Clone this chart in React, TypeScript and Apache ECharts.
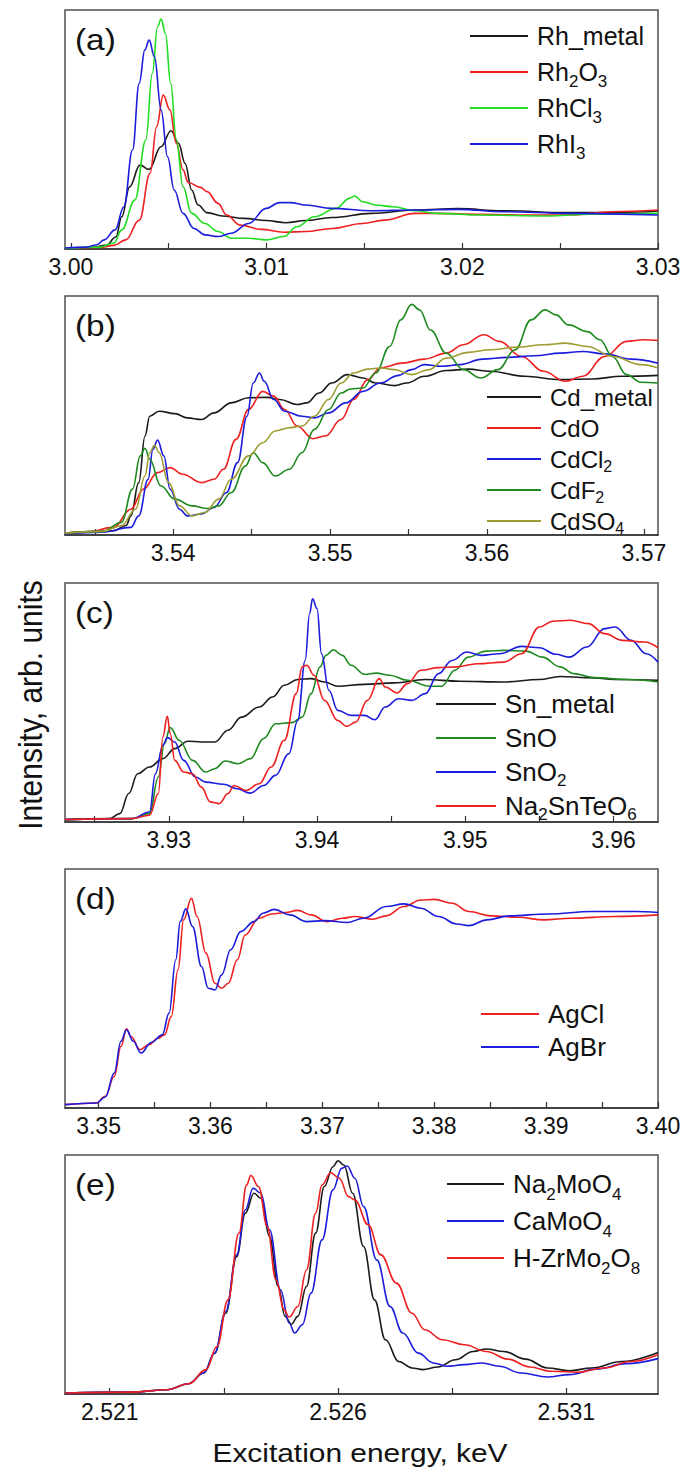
import React, { useEffect, useRef } from "react";
import * as echarts from "echarts";

const FONT = "'Liberation Sans', Arial, sans-serif";

// ---------- Panel (a) ----------
const rhMetal = [[2.9997,0.3],[3.0010,0.5],[3.0018,1.5],[3.0023,5],[3.0026,13.5],[3.0030,26],[3.00353,35.1],[3.0040,33.3],[3.0046,42.8],[3.00512,49.5],[3.0055,44.2],[3.00584,35.8],[3.00617,24.7],[3.0065,18.4],[3.00696,15.2],[3.00774,13.8],[3.00886,12.8],[3.00998,11.9],[3.01098,11.0],[3.0120,11.9],[3.01333,13.2],[3.01535,14.9],[3.01758,16.3],[3.0198,16.9],[3.02206,16.0],[3.02541,15.2],[3.0281,15.3],[3.0300,15.9]];
const rh2O3 = [[2.9997,0.2],[3.0015,0.6],[3.0022,1.5],[3.0028,3.8],[3.0035,12.1],[3.00405,31.7],[3.00438,51.2],[3.00472,64.4],[3.00506,58.2],[3.00539,44.2],[3.00573,33.1],[3.0060,27.8],[3.00662,25.8],[3.00696,24.0],[3.00752,19.1],[3.00796,14.2],[3.00864,10.0],[3.00975,8.2],[3.01087,7.0],[3.0120,7.3],[3.01333,8.6],[3.0149,10.7],[3.01602,12.1],[3.01758,14.9],[3.0187,14.9],[3.02094,14.5],[3.02318,14.2],[3.02541,14.2],[3.02765,15.6],[3.0300,16.3]];
const rhCl3 = [[2.9997,0.2],[3.0015,0.8],[3.0022,2.5],[3.0026,8],[3.00327,20.5],[3.00383,45.6],[3.00416,73.5],[3.00443,93],[3.00461,96.2],[3.00483,90.2],[3.0051,69.3],[3.00539,45.6],[3.00573,26.1],[3.00617,14.9],[3.00685,10.7],[3.00752,7.3],[3.00819,4.5],[3.00908,4.5],[3.00998,3.8],[3.01087,5.2],[3.01154,9.3],[3.01244,13.5],[3.01356,17],[3.01423,21.2],[3.0145,22.2],[3.0149,19.8],[3.01557,18.4],[3.01647,17.7],[3.01758,16],[3.0187,14.9],[3.02094,14.2],[3.0243,13.8],[3.02653,14.6],[3.0300,14.9]];
const rhI3 = [[2.9997,0.4],[3.0008,0.8],[3.0013,1.7],[3.0017,3.8],[3.00226,8],[3.00271,17.7],[3.00315,41.4],[3.00349,69.3],[3.00378,83.3],[3.0040,87.4],[3.00427,80.5],[3.00461,58.2],[3.00494,38.6],[3.00528,24.7],[3.00573,14.9],[3.00629,8.6],[3.00685,5.9],[3.00752,5.2],[3.00819,6.6],[3.00908,10.7],[3.00998,17],[3.01065,19.4],[3.01121,19.4],[3.0120,18.4],[3.01333,17],[3.01535,16],[3.01758,16.3],[3.0198,16.6],[3.02206,15.6],[3.02541,14.9],[3.0300,14.2]];
const ticksA = [3.0, 3.005, 3.01, 3.015, 3.02, 3.025, 3.03];
const labelsA = [3.0, 3.01, 3.02, 3.03];

// ---------- Panel (b) ----------
const cdMetal = [[3.5331,0.8],[3.5362,1.8],[3.5370,4],[3.5373,8],[3.5378,21.9],[3.5382,41.4],[3.5385,49.7],[3.5391,51.8],[3.5401,50.8],[3.5409,49],[3.5418,48.3],[3.5426,51.1],[3.5437,55.3],[3.5448,57.4],[3.5460,57.6],[3.5468,56.7],[3.5479,54.6],[3.5485,55.3],[3.5493,59.4],[3.5501,63.6],[3.5511,67.1],[3.5521,65.7],[3.5529,63.6],[3.5541,62.5],[3.5549,63.6],[3.5560,66.4],[3.5574,68.8],[3.5588,69.4],[3.5602,68.5],[3.5624,66.4],[3.5647,65],[3.5667,65.3],[3.5686,66.4],[3.5709,66.8]];
const cdO = [[3.5331,0.8],[3.5345,1.2],[3.5362,3.2],[3.5373,10.8],[3.5381,19.2],[3.5390,26.1],[3.5398,28.2],[3.5406,25.4],[3.5418,21.9],[3.5426,23.3],[3.5432,27.5],[3.5440,40],[3.5448,52.5],[3.5457,60.1],[3.5464,58.1],[3.5471,52.5],[3.5479,45.6],[3.5489,40.3],[3.5497,41.4],[3.5507,48.3],[3.5515,56.7],[3.5524,65],[3.5532,69.9],[3.5546,71.9],[3.5560,73.6],[3.5574,76.1],[3.5585,79.6],[3.5598,83.8],[3.5608,81],[3.5622,74.7],[3.5636,68.5],[3.5650,64.3],[3.5661,66.4],[3.5675,74.7],[3.5689,81],[3.5700,81.7],[3.5709,81.4]];
const cdCl2 = [[3.5331,0.5],[3.5355,1.2],[3.5373,3.2],[3.5378,8],[3.5384,23.3],[3.5387,35.8],[3.5390,39.7],[3.5394,33.1],[3.5398,19.2],[3.5404,10.8],[3.5409,8],[3.5418,8.8],[3.5426,11.5],[3.5434,17.8],[3.5441,30.3],[3.5447,49.7],[3.5451,63.6],[3.5455,67.8],[3.5458,64.3],[3.5464,56.7],[3.5471,51.8],[3.5482,49.7],[3.5490,49],[3.5499,51.1],[3.5510,55.3],[3.5521,60.1],[3.5532,63.6],[3.5543,66.7],[3.5552,69.2],[3.5560,71.3],[3.5571,70.6],[3.5583,71.3],[3.5597,73.6],[3.5613,74.3],[3.5630,75],[3.5647,76.1],[3.5661,76.8],[3.5675,75.8],[3.5692,73.6],[3.5709,71.9]];
const cdF2 = [[3.5331,0.8],[3.5355,1.5],[3.5367,5.3],[3.5374,19.2],[3.5379,33.1],[3.5382,36.3],[3.5385,31.7],[3.5392,20.6],[3.5401,15],[3.5412,12.2],[3.5422,11.1],[3.5429,12.2],[3.5437,17.8],[3.5446,28.9],[3.5451,34.4],[3.5457,30.3],[3.5465,24.7],[3.5474,27.5],[3.5482,34.4],[3.5490,44.2],[3.5499,52.5],[3.5507,59.4],[3.5513,61.1],[3.5521,61.5],[3.5529,67.8],[3.5538,78.9],[3.5545,90],[3.5552,96.5],[3.5557,94.2],[3.5564,85.8],[3.5574,76.1],[3.5585,69.2],[3.5596,65.7],[3.5607,69.2],[3.5618,77.5],[3.5628,90],[3.5637,94.2],[3.5644,92.1],[3.5652,87.9],[3.5664,85.1],[3.5672,81.7],[3.5680,74.7],[3.5689,67.1],[3.5698,63.9],[3.5709,63.6]];
const cdSO4 = [[3.5331,0.8],[3.5355,1.5],[3.5367,3.9],[3.5376,10.8],[3.5382,24.7],[3.5385,34.4],[3.5388,37.5],[3.5391,34.4],[3.5397,21.9],[3.5404,12.2],[3.5412,8],[3.5420,9.4],[3.5429,15],[3.5437,23.3],[3.5448,33.1],[3.5457,38.6],[3.5465,43.5],[3.5474,44.9],[3.5482,45.6],[3.5490,49.7],[3.5499,56.7],[3.5507,63.6],[3.5515,67.8],[3.5524,69.4],[3.5532,69.9],[3.5541,69.2],[3.5552,67.1],[3.5563,69.2],[3.5574,74],[3.5588,76.4],[3.5602,77.5],[3.5619,78.6],[3.5636,79.6],[3.5650,80.3],[3.5664,78.9],[3.5680,74.7],[3.5698,71.3],[3.5709,69.9]];
const ticksB = [3.535, 3.54, 3.545, 3.55, 3.555, 3.56, 3.565, 3.57];
const labelsB = [3.54, 3.55, 3.56, 3.57];

// ---------- Panel (c) ----------
const snMetal = [[3.9230,1],[3.9260,1.4],[3.9267,3.5],[3.9273,11.9],[3.9279,20.2],[3.9287,23],[3.9296,26.5],[3.9304,30.7],[3.9313,33.8],[3.9322,33.5],[3.9331,33.5],[3.9340,38.4],[3.9349,43.9],[3.9361,48.1],[3.9370,52.3],[3.9378,57.2],[3.9387,59.6],[3.9396,60],[3.9405,58.6],[3.9414,56.8],[3.9432,57.6],[3.9452,58.2],[3.9473,59.6],[3.9496,58.9],[3.9526,58.6],[3.9550,59.6],[3.9564,60.9],[3.9582,60.4],[3.9606,59.6],[3.9630,59.3]];
const snO = [[3.9230,1],[3.9275,1.4],[3.9287,3.5],[3.9293,18.8],[3.9297,32.8],[3.9301,39.5],[3.9307,34.2],[3.9316,25.8],[3.9325,20.9],[3.9331,22.3],[3.9338,25.5],[3.9347,24.4],[3.9355,26.5],[3.9364,34.9],[3.9372,41.1],[3.9383,41.6],[3.9390,43.9],[3.9396,53.7],[3.9402,64.9],[3.9406,69.7],[3.9411,72.1],[3.9417,69.7],[3.9423,65.6],[3.9432,61.8],[3.9440,62.3],[3.9449,61.4],[3.9461,59.3],[3.9476,56.8],[3.9484,56.8],[3.9493,63.5],[3.9502,69],[3.9514,71.5],[3.9526,71.8],[3.9541,71.5],[3.9552,69],[3.9564,64.9],[3.9573,62.1],[3.9587,60.4],[3.9609,59.6],[3.9630,58.6]];
const snO2 = [[3.9230,1],[3.9275,1.4],[3.9287,4.2],[3.9291,20.2],[3.9296,32.1],[3.9299,35.3],[3.9304,33.5],[3.9310,25.8],[3.9318,18.8],[3.9325,16.7],[3.9337,15.8],[3.9346,13.9],[3.9355,12.1],[3.9364,15.3],[3.9372,19.5],[3.9381,28.6],[3.9387,42.5],[3.9392,67.6],[3.9395,87.2],[3.9397,93.4],[3.9400,89.3],[3.9403,70.4],[3.9408,55.1],[3.9414,46.7],[3.9423,44.6],[3.9432,44.6],[3.9439,42.8],[3.9446,48.1],[3.9455,51.6],[3.9464,50.9],[3.9473,53.7],[3.9482,62.1],[3.9491,67.6],[3.9501,71.1],[3.9511,69.7],[3.9523,70.4],[3.9538,73.5],[3.9550,72.9],[3.9561,70.2],[3.9570,69],[3.9582,73.2],[3.9594,80.9],[3.9601,81.6],[3.9612,76],[3.9622,70.4],[3.9630,66.9]];
const na2SnTeO6 = [[3.9230,1],[3.9275,1.4],[3.9287,2.8],[3.9293,11.9],[3.9296,35.6],[3.9299,44.2],[3.9301,37],[3.9304,25.8],[3.9310,20.9],[3.9316,20.2],[3.9322,14.6],[3.9328,8.4],[3.9334,7.7],[3.9340,11.9],[3.9344,15.3],[3.9352,13.2],[3.9361,16],[3.9369,23],[3.9378,34.2],[3.9386,53.7],[3.9390,64.9],[3.9393,65.6],[3.9398,61.4],[3.9405,50.9],[3.9414,42.5],[3.9420,40],[3.9426,41.8],[3.9434,50.9],[3.9442,60],[3.9446,56.5],[3.9454,54],[3.9461,57.9],[3.9470,63.5],[3.9482,64.6],[3.9494,64.9],[3.9508,66.2],[3.9526,66.9],[3.9538,70.4],[3.9550,81.6],[3.9559,84],[3.9571,84.4],[3.9583,83],[3.9594,78.8],[3.9606,76],[3.9621,75.3],[3.9630,72.9]];
const ticksC = [3.925, 3.93, 3.935, 3.94, 3.945, 3.95, 3.955, 3.96];
const labelsC = [3.93, 3.94, 3.95, 3.96];

// ---------- Panel (d) ----------
const agCl = [[3.3470,1.4],[3.3498,2.1],[3.3506,4.9],[3.3514,13.2],[3.3520,25.8],[3.3525,33.1],[3.3529,29.9],[3.3537,24.4],[3.3545,26.5],[3.3553,29.2],[3.3559,30.6],[3.3565,38.3],[3.3571,57.8],[3.3576,78.7],[3.3583,87.7],[3.3588,80.1],[3.3596,64.8],[3.3604,52.2],[3.3610,50.1],[3.3616,52.2],[3.3624,62],[3.3631,72.4],[3.3643,79.4],[3.3655,81.2],[3.3667,81.8],[3.3678,82.7],[3.3690,80.8],[3.3704,78],[3.3718,79.4],[3.3729,80.1],[3.3745,79],[3.3757,80.4],[3.3773,84.3],[3.3788,87],[3.3800,87.3],[3.3816,85.7],[3.3831,82.2],[3.3851,80.4],[3.3875,79.8],[3.3898,78.7],[3.3922,79.4],[3.3961,80.1],[3.4000,80.8]];
const agBr = [[3.3470,1.4],[3.3498,2.1],[3.3506,4.6],[3.3514,14.6],[3.3520,27.9],[3.3525,32.7],[3.3531,27.9],[3.3538,23],[3.3547,27.4],[3.3557,30.6],[3.3563,39.7],[3.3569,62],[3.3573,78],[3.3578,83.3],[3.3584,75.9],[3.3592,59.2],[3.3598,50.1],[3.3604,49.4],[3.3610,55.7],[3.3618,66.2],[3.3627,73.8],[3.3639,78],[3.3647,81.5],[3.3657,83.1],[3.3671,80.8],[3.3686,78],[3.3702,78.4],[3.3722,77.6],[3.3737,79.4],[3.3757,84.3],[3.3773,85.4],[3.3788,83.6],[3.3804,80.1],[3.3820,77],[3.3831,76.3],[3.3847,78.7],[3.3867,80.4],[3.3902,81.2],[3.3941,82.2],[3.3980,82.2],[3.4000,81.8]];
const ticksD = [3.35, 3.355, 3.36, 3.365, 3.37, 3.375, 3.38, 3.385, 3.39, 3.395, 3.4];
const labelsD = [3.35, 3.36, 3.37, 3.38, 3.39, 3.4];

// ---------- Panel (e) ----------
const na2MoO4 = [[2.52002,0.4],[2.52148,0.8],[2.52225,1.8],[2.52273,4.3],[2.52306,8.8],[2.5233,17.1],[2.52354,33.8],[2.52378,57.5],[2.52397,75.6],[2.52416,84],[2.52431,81.9],[2.5245,65.9],[2.52469,45],[2.52484,32.5],[2.52498,29.2],[2.52512,32.5],[2.52531,45],[2.52551,67.3],[2.5257,86.8],[2.52589,95.1],[2.526,97.6],[2.52613,95.8],[2.52632,84],[2.52656,61.7],[2.5268,39.4],[2.52704,22.7],[2.52733,13.6],[2.52762,10.9],[2.52786,10.2],[2.52819,11.3],[2.52857,14.3],[2.52896,17.8],[2.52925,18.8],[2.52963,17.8],[2.53011,14.6],[2.53059,10.9],[2.53107,9.7],[2.53155,10.9],[2.53222,13.6],[2.53301,17.4]];
const caMoO4 = [[2.52002,0.4],[2.52148,0.8],[2.52225,1.8],[2.52273,4.3],[2.52306,8.8],[2.5233,17.1],[2.52354,34.5],[2.52378,58.2],[2.52397,77],[2.52414,86.1],[2.52431,84],[2.5245,68.7],[2.52474,43.6],[2.52493,29.7],[2.52505,25.5],[2.52522,29],[2.52541,42.2],[2.52565,64.5],[2.52589,85.4],[2.52608,94.4],[2.5262,95.4],[2.52637,90.3],[2.52656,78.4],[2.52685,56.1],[2.52714,36.6],[2.52742,25.5],[2.52776,17.1],[2.52809,13],[2.52838,11.6],[2.52877,12.3],[2.52915,13],[2.52953,11.6],[2.53001,8.8],[2.53059,7.1],[2.53107,8.1],[2.53164,10.4],[2.53231,12.7],[2.53301,14.8]];
const hZrMo2O8 = [[2.52002,0.4],[2.52148,0.8],[2.52225,1.8],[2.52273,4.3],[2.52311,10.2],[2.52335,19.9],[2.52359,39.4],[2.52383,67.3],[2.524,87.5],[2.52409,91.4],[2.52426,86.8],[2.52445,70.1],[2.52464,47.8],[2.52482,35.2],[2.52493,32.2],[2.52512,36.6],[2.52531,51.9],[2.52551,75.6],[2.52565,87.5],[2.52584,92.6],[2.52603,90.3],[2.52623,82.6],[2.52637,81.2],[2.52666,70.8],[2.52694,58.2],[2.52728,46.4],[2.52762,33.8],[2.5279,26.9],[2.52829,22.7],[2.52877,20.6],[2.52925,17.8],[2.52972,14.6],[2.5302,11.3],[2.53068,9.5],[2.53126,9.1],[2.53183,10.9],[2.53241,13.6],[2.53301,16.4]];
const ticksE = [2.521, 2.5235, 2.526, 2.5285, 2.531];
const labelsE = [2.521, 2.526, 2.531];

const BLACK = "#1a1a1a";
const RED = "#ee2020";
const BLUE = "#1c1cdc";
const LGREEN = "#22dd22";
const DGREEN = "#1f8a1f";
const OLIVE = "#9d9d33";

const panels = [
  { tag: "(a)", top: 10, min: 2.9997, max: 3.03, ticks: ticksA, labels: labelsA, dec: 2,
    series: [["Rh_metal", rhMetal, BLACK], ["Rh2O3", rh2O3, RED], ["RhCl3", rhCl3, LGREEN], ["RhI3", rhI3, BLUE]],
    legend: { left: 470, first: 36, row: 36, fs: 25, iconW: 58 } },
  { tag: "(b)", top: 296, min: 3.5331, max: 3.5709, ticks: ticksB, labels: labelsB, dec: 2,
    series: [["Cd_metal", cdMetal, BLACK], ["CdO", cdO, RED], ["CdCl2", cdCl2, BLUE], ["CdF2", cdF2, DGREEN], ["CdSO4", cdSO4, OLIVE]],
    legend: { left: 487, first: 397, row: 31, fs: 24, iconW: 54 } },
  { tag: "(c)", top: 583, min: 3.923, max: 3.963, ticks: ticksC, labels: labelsC, dec: 2,
    series: [["Sn_metal", snMetal, BLACK], ["SnO", snO, DGREEN], ["SnO2", snO2, BLUE], ["Na2SnTeO6", na2SnTeO6, RED]],
    legend: { left: 436, first: 704, row: 34, fs: 26, iconW: 60 } },
  { tag: "(d)", top: 869, min: 3.347, max: 3.4, ticks: ticksD, labels: labelsD, dec: 2,
    series: [["AgCl", agCl, RED], ["AgBr", agBr, BLUE]],
    legend: { left: 481, first: 1014, row: 33, fs: 26, iconW: 58 } },
  { tag: "(e)", top: 1155, min: 2.52002, max: 2.53301, ticks: ticksE, labels: labelsE, dec: 3,
    series: [["Na2MoO4", na2MoO4, BLACK], ["CaMoO4", caMoO4, BLUE], ["H-ZrMo2O8", hZrMo2O8, RED]],
    legend: { left: 447, first: 1184, row: 37, fs: 26, iconW: 57 } },
];

const GRID_LEFT = 65;
const GRID_W = 593;
const GRID_H = 239;

function buildOption() {
  const grid: any[] = [];
  const xAxis: any[] = [];
  const yAxis: any[] = [];
  const series: any[] = [];
  const legend: any[] = [];
  const graphic: any[] = [];

  panels.forEach((p, i) => {
    grid.push({ left: GRID_LEFT, top: p.top, width: GRID_W, height: GRID_H, show: true,
      borderColor: "#505050", borderWidth: 1.5, backgroundColor: "transparent" });
    xAxis.push({
      type: "value", gridIndex: i, min: p.min, max: p.max,
      splitLine: { show: false },
      axisLine: { show: true, onZero: false, lineStyle: { color: "#333", width: 1.6 } },
      axisTick: { show: true, inside: true, length: 6, customValues: p.ticks, lineStyle: { color: "#333", width: 1.2 } },
      axisLabel: { customValues: p.labels, formatter: (v: number) => v.toFixed(p.dec),
        fontSize: 23, fontFamily: FONT, color: "#111", margin: 6 },
    });
    yAxis.push({ type: "value", gridIndex: i, min: 0, max: 100, show: false });
    p.series.forEach(([name, data, color]: any) => {
      series.push({
        type: "line", name, data, xAxisIndex: i, yAxisIndex: i,
        showSymbol: false, symbol: "none", smooth: 0.4, smoothMonotone: "x",
        lineStyle: { color, width: 1.6 }, itemStyle: { color },
      });
    });
    const L = p.legend;
    const subLH = L.row - 0.6 * L.fs;
    legend.push({
      orient: "vertical", left: L.left, top: L.first - L.row / 2, padding: 0, itemGap: 0,
      itemWidth: L.iconW, itemHeight: 2, icon: "rect", selectedMode: false,
      data: p.series.map((s: any) => s[0]),
      formatter: (name: string) => name.replace(/(\d)/g, "{sub|$1}"),
      textStyle: {
        fontSize: L.fs, fontFamily: FONT, color: "#111", lineHeight: L.row, padding: [0, 0, 0, 4],
        rich: { sub: { fontSize: Math.round(L.fs * 0.66), fontFamily: FONT, color: "#111", lineHeight: subLH, verticalAlign: "bottom" } },
      },
    });
    graphic.push({
      type: "text", x: 75, y: p.top + 16, scaleX: 1.15, silent: true,
      style: { text: p.tag, fontSize: 29, fontFamily: FONT, fill: "#111", align: "left", verticalAlign: "top" },
    });
  });

  graphic.push({
    type: "text", x: 30, y: 705, rotation: Math.PI / 2, scaleY: 1.12, silent: true,
    style: { text: "Intensity, arb. units", fontSize: 30, fontFamily: FONT, fill: "#111", align: "center", verticalAlign: "middle" },
  });
  graphic.push({
    type: "text", x: 360, y: 1453, scaleX: 1.15, silent: true,
    style: { text: "Excitation energy, keV", fontSize: 26, fontFamily: FONT, fill: "#111", align: "center", verticalAlign: "middle" },
  });

  return { animation: false, backgroundColor: "#ffffff", grid, xAxis, yAxis, series, legend, graphic };
}

export default function App() {
  const ref = useRef<HTMLDivElement>(null);
  useEffect(() => {
    document.body.style.margin = "0";
    const chart = echarts.init(ref.current as HTMLDivElement, null, { renderer: "svg" });
    chart.setOption(buildOption() as any);
    return () => chart.dispose();
  }, []);
  return <div ref={ref} style={{ width: 686, height: 1473 }} />;
}
